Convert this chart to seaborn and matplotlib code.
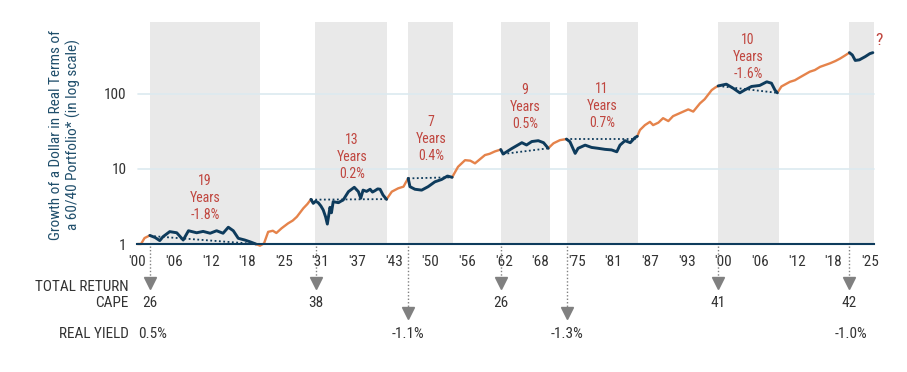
import numpy as np
import pandas as pd
import matplotlib
matplotlib.use("Agg")
import matplotlib.pyplot as plt
import matplotlib.transforms as mtransforms
from matplotlib import font_manager as fm
from matplotlib.ticker import NullLocator, FixedLocator, FixedFormatter
import seaborn as sns

# ---------------- data ----------------
years = [1900.0, 1900.6, 1901.2, 1902.1,
         1903.0, 1903.8, 1904.35, 1905.5, 1906.7, 1907.8, 1908.7, 1910.1, 1911.2, 1912.4,
         1913.5, 1914.6, 1915.5, 1916.35, 1917.2, 1918.3, 1919.2, 1919.9, 1920.2,
         1920.9, 1921.6, 1922.3, 1923.1, 1923.7, 1924.6, 1925.7, 1926.5, 1927.2, 1928.3, 1929.0, 1929.6,
         1930.0, 1930.4, 1930.85, 1931.3, 1931.7, 1932.1, 1932.4, 1932.85, 1933.1, 1933.4, 1934.3,
         1934.7, 1935.1, 1936.0, 1937.0, 1937.7, 1938.1, 1938.5, 1939.1, 1939.7, 1940.1, 1940.5,
         1941.0, 1941.4, 1941.9, 1942.5,
         1943.4, 1944.5, 1945.4, 1945.8, 1946.2,
         1946.5, 1947.35, 1948.5, 1949.6, 1950.75, 1951.9, 1952.9, 1953.7,
         1954.7, 1955.9, 1956.8, 1957.6, 1959.3, 1960.1, 1961.0, 1962.0,
         1962.4, 1963.9, 1965.6, 1966.4, 1967.3, 1968.4, 1969.3, 1970.1,
         1971.0, 1972.1, 1973.2,
         1973.8, 1974.7, 1975.2, 1976.4, 1977.5, 1978.6, 1979.8, 1980.9, 1981.8, 1982.35,
         1983.2, 1984.1, 1984.9, 1985.3,
         1985.75, 1986.6, 1987.46, 1988.0, 1988.9, 1989.7, 1990.6, 1991.4, 1992.6, 1994.0,
         1994.85, 1996.0, 1996.8, 1998.0, 1998.6, 1999.1,
         2000.5, 2001.7, 2002.8, 2003.6, 2004.8, 2006.2, 2007.4, 2008.2, 2008.8, 2009.2,
         2009.9, 2011.35, 2012.2, 2013.05, 2014.75, 2015.6, 2016.5, 2018.2, 2019.1, 2019.9,
         2020.7, 2021.5,
         2022.0, 2022.5, 2023.2, 2024.2, 2025.0, 2025.5]
growth = [1.0, 1.0, 1.2, 1.3,
          1.22, 1.11, 1.25, 1.46, 1.41, 1.13, 1.5, 1.41, 1.47, 1.39,
          1.5, 1.39, 1.67, 1.5, 1.19, 1.13, 1.07, 1.02, 1.0,
          0.95, 1.02, 1.45, 1.5, 1.4, 1.62, 1.88, 2.05, 2.3, 2.98, 3.4, 3.92,
          3.47, 3.7, 3.54, 3.2, 2.83, 2.3, 1.84, 3.07, 2.6, 3.65, 3.54,
          3.7, 3.84, 4.96, 5.67, 4.96, 4.05, 5.2, 5.0, 5.34, 4.9, 5.1,
          5.4, 5.34, 4.48, 3.92,
          4.96, 5.5, 5.78, 6.6, 7.45,
          5.78, 5.34, 5.2, 5.78, 6.7, 7.2, 8.0, 7.7,
          10.6, 13.0, 12.8, 11.8, 15.2, 15.8, 17.0, 18.0,
          15.7, 18.6, 22.2, 20.7, 23.0, 23.6, 22.2, 18.7,
          21.8, 24.0, 24.8,
          22.9, 16.0, 18.7, 20.6, 19.2, 18.7, 18.1, 17.8, 16.8, 20.6,
          23.6, 22.2, 25.9, 27.0,
          32.7, 38, 42, 38, 41, 47, 43, 50, 55, 61.5,
          57.5, 74, 84, 111, 120, 126,
          133, 117, 102, 111, 124, 128, 143, 137, 111, 102,
          124, 143, 150, 164, 195, 205, 226, 252, 270, 291,
          318, 349,
          325, 275, 280, 309, 339, 349]

# periods where the portfolio lost real value (navy line)
dd_start = [1902.1, 1929.6, 1946.2, 1962.0, 1973.2, 1999.1, 2021.5]
dd_end = [1920.2, 1942.5, 1953.7, 1970.1, 1985.3, 2009.2, 2025.5]
# grey shaded periods
band_start = [1902.1, 1930.3, 1946.2, 1962.0, 1973.3, 1999.1, 2021.5]
band_end = [1920.9, 1942.6, 1953.8, 1970.4, 1985.4, 2009.5, 2025.7]

# dotted trend lines inside the periods
trend_x0 = [1902.1, 1929.6, 1946.2, 1962.4, 1973.2, 1999.1]
trend_x1 = [1920.2, 1942.5, 1953.7, 1970.1, 1985.0, 2009.2]
trend_y0 = [1.28, 3.88, 7.45, 15.7, 24.6, 126]
trend_y1 = [1.0, 3.95, 7.7, 18.7, 24.6, 102]

# period annotations
ann_text = ["19\nYears\n-1.8%", "13\nYears\n0.2%", "7\nYears\n0.4%", "9\nYears\n0.5%",
            "11\nYears\n0.7%", "10\nYears\n-1.6%"]
ann_x = [1911.5, 1936.6, 1950.1, 1966.1, 1979.3, 2004.2]
ann_y = [4.09, 14.3, 24.9, 66.3, 68.2, 305]

# valuation rows below the chart
cape_years = [1902.1, 1930.5, 1962.0, 1999.1, 2021.5]
cape_labels = ["26", "38", "26", "41", "42"]
ry_arrow_years = [1946.2, 1973.3]
ry_years = [1902.5, 1946.2, 1973.3, 2021.7]
ry_labels = ["0.5%", "-1.1%", "-1.3%", "-1.0%"]

x_ticks = [1900 + 6.25 * k for k in range(21)]
x_tick_labels = ["'00", "'06", "'12", "'18", "'25", "'31", "'37", "'43", "'50", "'56",
                 "'62", "'68", "'75", "'81", "'87", "'93", "'00", "'06", "'12", "'18", "'25"]
y_ticks = [1, 10, 100]
y_tick_labels = ["1", "10", "100"]

# ---------------- styling ----------------
ORANGE = "#E5834B"
NAVY = "#0E3B5C"
RED = "#C0463F"
GREY_BAND = "#E9E9E9"
GRID = "#DCEAF0"
ARROW = "#808080"
TEXT = "#333333"
YLAB = "#1F4E6B"

sns.set_theme(style="white")
names = {f.name for f in fm.fontManager.ttflist}
family = None
for cand in ["Roboto Condensed", "Liberation Sans Narrow", "Arial Narrow"]:
    if cand in names:
        family = cand
        break
if family is None:
    family = "DejaVu Sans"
    plt.rcParams["font.stretch"] = "condensed"
plt.rcParams["font.family"] = [family, "DejaVu Sans"]

W, H = 907, 372
fig = plt.figure(figsize=(W / 100, H / 100), dpi=100)
x0_px, x1_px = 137.5, 874.0
ybot_px, ytop_px = 244.0, 18.25
ax = fig.add_axes([x0_px / W, (H - ybot_px) / H, (x1_px - x0_px) / W, (ybot_px - ytop_px) / H])

# ---------- build coloured segments (shared end points keep the line continuous)
df = pd.DataFrame({"year": years, "value": growth})
kinds = [any(s <= y <= e for s, e in zip(dd_start, dd_end)) for y in df["year"]]
rows = []
seg = 0
for i in range(len(df)):
    k = kinds[i]
    if i > 0 and k != kinds[i - 1]:
        if k:  # orange -> navy : navy start point also closes the orange segment
            rows.append({"year": df.year[i], "value": df.value[i], "kind": "up", "seg": seg})
            seg += 1
        else:  # navy -> orange : navy end point also opens the orange segment
            seg += 1
            rows.append({"year": df.year[i - 1], "value": df.value[i - 1], "kind": "up", "seg": seg})
    rows.append({"year": df.year[i], "value": df.value[i], "kind": "down" if k else "up", "seg": seg})
lines_df = pd.DataFrame(rows)

# grey bands
for s, e in zip(band_start, band_end):
    ax.fill_between([s, e], 1, 900, color=GREY_BAND, lw=0, zorder=0)

for v in [10, 100]:
    ax.axhline(v, color=GRID, lw=1.2, zorder=0.5)

sns.lineplot(data=lines_df, x="year", y="value", hue="kind", units="seg", estimator=None,
             size="kind", sizes={"up": 1.7, "down": 2.1},
             palette={"up": ORANGE, "down": NAVY}, legend=False, ax=ax, zorder=3)
for l in ax.lines:
    l.set_clip_on(False)
    l.set_solid_capstyle("round")
    l.set_solid_joinstyle("round")

for xa, xb, ya, yb in zip(trend_x0, trend_x1, trend_y0, trend_y1):
    ax.plot([xa, xb], [ya, yb], color=NAVY, lw=1.3, ls=(0, (1, 1.4)), zorder=2.5)

for t, x, y in zip(ann_text, ann_x, ann_y):
    ax.text(x, y, t, color=RED, fontsize=10, ha="center", va="center",
            linespacing=1.3, zorder=4)
ax.text(2026.6, 514, "?", color=RED, fontsize=12.5, ha="center", va="center", clip_on=False)

ax.set_yscale("log")
ax.set_xlim(1900, 2025.7)
ax.set_ylim(1, 1000)
ax.yaxis.set_major_locator(FixedLocator(y_ticks))
ax.yaxis.set_major_formatter(FixedFormatter(y_tick_labels))
ax.yaxis.set_minor_locator(NullLocator())
ax.xaxis.set_major_locator(FixedLocator(x_ticks))
ax.xaxis.set_major_formatter(FixedFormatter(x_tick_labels))
ax.tick_params(axis="both", length=0, labelsize=11, colors=TEXT)
ax.tick_params(axis="x", pad=8)
ax.tick_params(axis="y", pad=8)
ax.set_xlabel("")
ax.set_ylabel("")
for sp in ["top", "right", "left"]:
    ax.spines[sp].set_visible(False)
ax.spines["bottom"].set_color(NAVY)
ax.spines["bottom"].set_linewidth(1.5)
ax.spines["bottom"].set_zorder(5)

fig.text(65 / W, (H - 135) / H,
         "Growth of a Dollar in Real Terms of\na 60/40 Portfolio* (in log scale)",
         rotation=90, ha="center", va="center", multialignment="center",
         color=YLAB, fontsize=11, linespacing=1.15)

# arrows and valuation rows (x in data, y in figure pixels)
trans = mtransforms.blended_transform_factory(ax.transData, fig.dpi_scale_trans)
def py(p):
    return (H - p) / 100.0

for x in cape_years:
    ax.plot([x, x], [py(246), py(279)], transform=trans, color=ARROW, lw=1.0,
            ls=(0, (1, 1.5)), clip_on=False)
    ax.plot([x], [py(283)], transform=trans, marker="v", ms=9, color=ARROW,
            mec=ARROW, clip_on=False)
for x in ry_arrow_years:
    ax.plot([x, x], [py(246), py(309)], transform=trans, color=ARROW, lw=1.0,
            ls=(0, (1, 1.5)), clip_on=False)
    ax.plot([x], [py(313)], transform=trans, marker="v", ms=9, color=ARROW,
            mec=ARROW, clip_on=False)
for x, t in zip(cape_years, cape_labels):
    ax.text(x, py(303), t, transform=trans, ha="center", va="center", fontsize=11, color=TEXT)
for x, t in zip(ry_years, ry_labels):
    ax.text(x, py(334), t, transform=trans, ha="center", va="center", fontsize=11, color=TEXT)

fig.text(129 / W, (H - 287) / H, "TOTAL RETURN", ha="right", va="center", fontsize=11, color=TEXT)
fig.text(129 / W, (H - 303) / H, "CAPE", ha="right", va="center", fontsize=11, color=TEXT)
fig.text(129 / W, (H - 334) / H, "REAL YIELD", ha="right", va="center", fontsize=11, color=TEXT)

fig.savefig("out.png", dpi=100)
